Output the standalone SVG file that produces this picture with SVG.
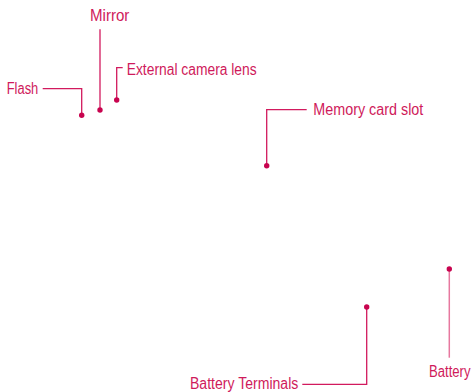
<svg xmlns="http://www.w3.org/2000/svg" width="475" height="392" viewBox="0 0 475 392">
<style>
.lbl{font-family:"Liberation Sans",Arial,sans-serif;font-size:16px;fill:#cf1a5b}
.dot{fill:#c8044f}
.ln{fill:none;stroke:#d21a5e;stroke-width:1.3}
.ln2{fill:none;stroke:#e7789f;stroke-width:1.5}
</style>
<rect width="475" height="392" fill="#ffffff"/>
<g id="connectors">
<polyline class="ln" points="42.7,88.7 81.7,88.7 81.7,115.3"/>
<polyline class="ln" points="100,29.3 100,110"/>
<polyline class="ln" points="122.7,67.7 116.7,67.7 116.7,100"/>
<polyline class="ln" points="306.7,109.7 266.7,109.7 266.7,165.7"/>
<polyline class="ln" points="302.3,384.3 366.7,384.3 366.7,307"/>
<polyline class="ln2" points="449.3,269 449.3,357.7"/>
</g>
<g id="flash">
<text class="lbl" x="6.7" y="94" textLength="31.6" lengthAdjust="spacingAndGlyphs">Flash</text>
<circle class="dot" cx="81.7" cy="115.3" r="2.7"/>
</g>
<g id="mirror">
<text class="lbl" x="90" y="21" textLength="39.3" lengthAdjust="spacingAndGlyphs">Mirror</text>
<circle class="dot" cx="100" cy="110" r="2.7"/>
</g>
<g id="camera-lens">
<text class="lbl" x="126.7" y="75" textLength="130" lengthAdjust="spacingAndGlyphs">External camera lens</text>
<circle class="dot" cx="116.7" cy="100" r="2.7"/>
</g>
<g id="memory-card-slot">
<text class="lbl" x="313.3" y="114.5" textLength="110" lengthAdjust="spacingAndGlyphs">Memory card slot</text>
<circle class="dot" cx="266.7" cy="165.7" r="2.7"/>
</g>
<g id="battery-terminals">
<text class="lbl" x="190" y="389" textLength="108.3" lengthAdjust="spacingAndGlyphs">Battery Terminals</text>
<circle class="dot" cx="366.7" cy="307" r="2.7"/>
</g>
<g id="battery">
<text class="lbl" transform="translate(429,377) scale(0.82,1)" x="0" y="0">Battery</text>
<circle class="dot" cx="449.3" cy="269" r="2.7"/>
</g>
</svg>
